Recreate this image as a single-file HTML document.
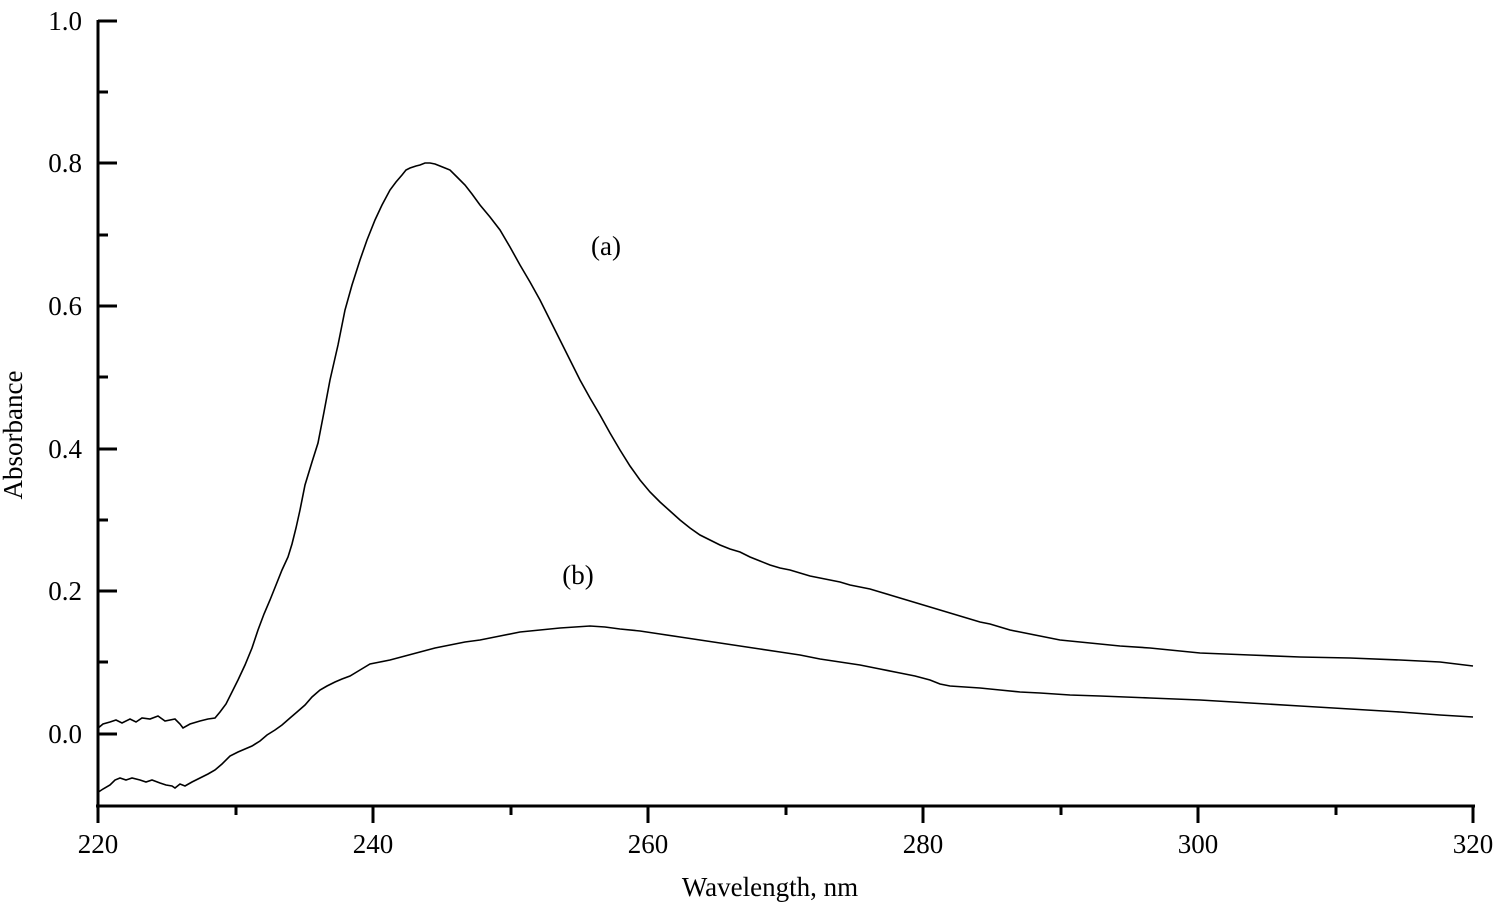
<!DOCTYPE html>
<html><head><meta charset="utf-8"><style>body{margin:0;background:#fff}svg{display:block}text{font-family:"Liberation Serif",serif;fill:#000}</style></head><body>
<svg width="1509" height="907" viewBox="0 0 1509 907">
<g stroke="#000" stroke-width="3" fill="none">
<line x1="98" y1="20" x2="98" y2="807"/>
<line x1="96" y1="806" x2="1475" y2="806"/>
<line x1="98" y1="806" x2="98" y2="823"/>
<line x1="236" y1="806" x2="236" y2="815"/>
<line x1="373" y1="806" x2="373" y2="823"/>
<line x1="511" y1="806" x2="511" y2="815"/>
<line x1="648" y1="806" x2="648" y2="823"/>
<line x1="786" y1="806" x2="786" y2="815"/>
<line x1="923" y1="806" x2="923" y2="823"/>
<line x1="1061" y1="806" x2="1061" y2="815"/>
<line x1="1198" y1="806" x2="1198" y2="823"/>
<line x1="1336" y1="806" x2="1336" y2="815"/>
<line x1="1473" y1="806" x2="1473" y2="823"/>
<line x1="98" y1="21" x2="117" y2="21"/>
<line x1="98" y1="92" x2="108" y2="92"/>
<line x1="98" y1="163" x2="117" y2="163"/>
<line x1="98" y1="235" x2="108" y2="235"/>
<line x1="98" y1="306" x2="117" y2="306"/>
<line x1="98" y1="377" x2="108" y2="377"/>
<line x1="98" y1="449" x2="117" y2="449"/>
<line x1="98" y1="520" x2="108" y2="520"/>
<line x1="98" y1="591" x2="117" y2="591"/>
<line x1="98" y1="662" x2="108" y2="662"/>
<line x1="98" y1="734" x2="117" y2="734"/>
</g>
<g stroke="#000" stroke-width="1.6" fill="none">
<polyline points="97,729 103,724 110,722 116,720 122,723 130,719 136,722 142,718 150,719 158,716 165,721 175,719 180,724 183,728 190,724 200,721 208,719 215,718 220,712 226,704 232,692 238,680 245,665 252,648 258,630 264,614 270,600 276,585 282,570 288,557 292,544 296,528 300,510 305,485 312,462 318,443 324,412 330,380 338,345 345,310 352,285 360,260 367,240 375,220 382,205 390,190 396,182 402,175 406,170 410,168 416,166 420,165 425,163 430,163 435,164 440,166 445,168 450,170 457,177 465,185 472,194 480,205 490,217 500,230 510,247 520,265 530,282 540,300 550,320 560,340 570,360 580,380 590,398 600,415 610,433 620,450 630,466 640,480 650,492 660,502 670,511 680,520 690,528 700,535 710,540 720,545 730,549 740,552 750,557 760,561 770,565 780,568 790,570 800,573 810,576 820,578 830,580 840,582 850,585 860,587 870,589 880,592 890,595 900,598 910,601 920,604 930,607 940,610 950,613 960,616 970,619 980,622 990,624 1000,627 1010,630 1020,632 1030,634 1040,636 1050,638 1060,640 1070,641 1080,642 1090,643 1100,644 1120,646 1150,648 1200,653 1250,655 1300,657 1350,658 1400,660 1440,662 1473,666"/>
<polyline points="97,793 103,789 110,785 115,780 120,778 126,780 132,778 140,780 146,782 152,780 160,783 166,785 172,786 175,788 180,784 185,786 192,782 200,778 208,774 215,770 222,764 230,756 238,752 245,749 252,746 260,741 267,735 275,730 282,725 290,718 297,712 305,705 312,697 320,690 327,686 335,682 342,679 350,676 360,670 370,664 380,662 390,660 405,656 420,652 435,648 450,645 465,642 480,640 500,636 520,632 540,630 560,628 575,627 590,626 605,627 620,629 640,631 660,634 680,637 700,640 720,643 740,646 760,649 780,652 800,655 820,659 840,662 860,665 880,669 900,673 915,676 930,680 940,684 950,686 965,687 980,688 1000,690 1020,692 1040,693 1070,695 1100,696 1150,698 1200,700 1250,703 1300,706 1350,709 1400,712 1440,715 1473,717"/>
</g>
<g font-size="27" text-anchor="end">
<text x="82" y="30">1.0</text>
<text x="82" y="172">0.8</text>
<text x="82" y="315">0.6</text>
<text x="82" y="458">0.4</text>
<text x="82" y="600">0.2</text>
<text x="82" y="743">0.0</text>
</g>
<g font-size="27" text-anchor="middle">
<text x="98" y="853">220</text>
<text x="373" y="853">240</text>
<text x="648" y="853">260</text>
<text x="923" y="853">280</text>
<text x="1198" y="853">300</text>
<text x="1473" y="853">320</text>
<text x="770" y="896">Wavelength, nm</text>
<text x="606" y="255">(a)</text>
<text x="578" y="584">(b)</text>
<text transform="translate(22,435) rotate(-90)">Absorbance</text>
</g>
</svg>
</body></html>
